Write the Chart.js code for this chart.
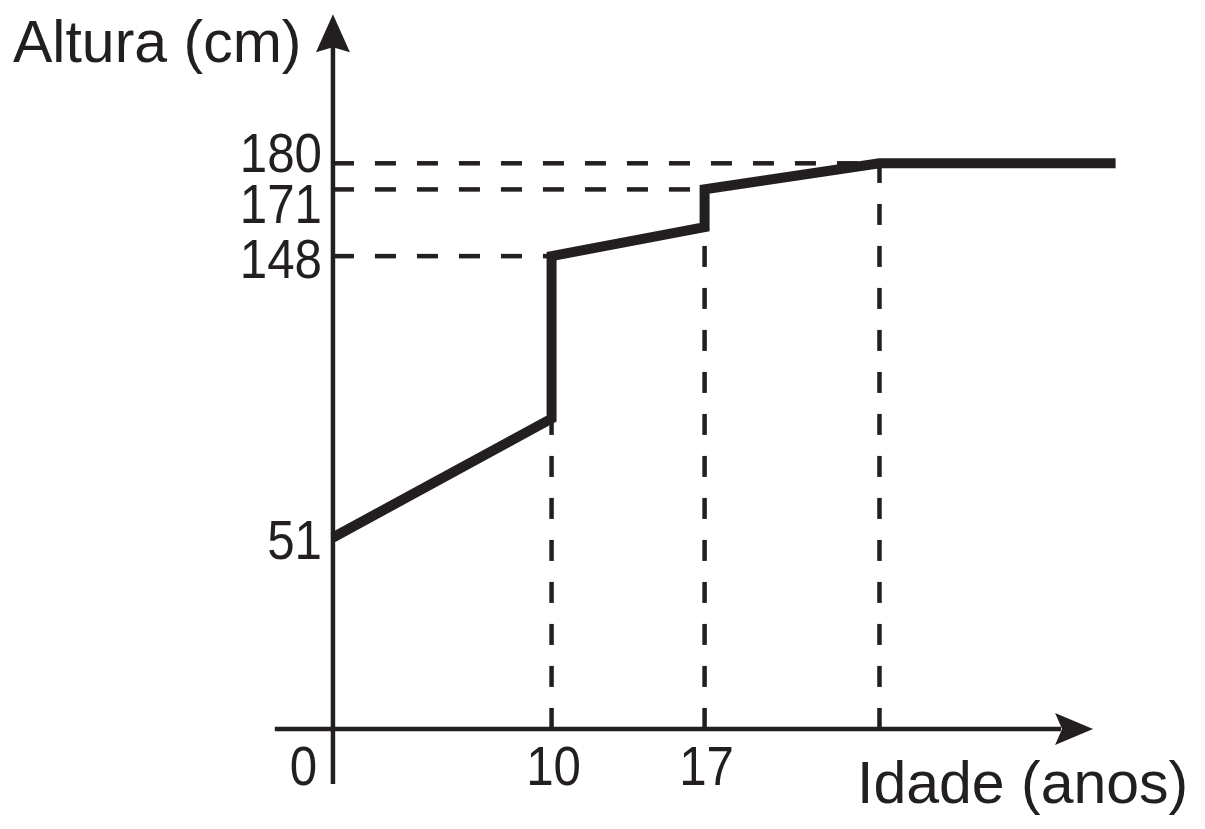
<!DOCTYPE html>
<html lang="pt">
<head>
<meta charset="utf-8">
<title>Altura x Idade</title>
<script src="https://cdn.jsdelivr.net/npm/chart.js@4/dist/chart.umd.min.js"></script>
<style>
  html, body { margin: 0; padding: 0; background: #fff; }
  #wrap { width: 1205px; height: 829px; }
</style>
</head>
<body>
<div id="wrap"><canvas id="grafico"></canvas></div>
<script>
// dados
const idade = [0, 10, 10, 17, 17, 25, 35.8];
const altura = [51, 92, 148, 158, 171, 180, 180];

// marcas nos eixos
const ticksAltura = [51, 148, 171, 180];
const ticksIdade = [10, 17, 25];
const rotulosIdade = ["10", "17", ""];

const tituloY = "Altura (cm)";
const tituloX = "Idade (anos)";

const COR = "#231f20";
const FONTE = '"Liberation Sans", Arial, sans-serif';

// onde os eixos cruzam / terminam (valores das escalas)
const EIXO_X = -15;        // altura onde fica o eixo horizontal
const BASE_EIXO_Y = -34;   // o eixo vertical desce um pouco abaixo
const INICIO_EIXO_X = -2.66;
const SETA_X = 34.77;
const SETA_Y = 231.4;

// 📐 linhas tracejadas de referência (montadas a partir dos dados)
function guias() {
  const out = [];
  ticksAltura.forEach(v => {
    const i = altura.indexOf(v);
    if (i > 0) out.push([{ x: 0, y: v }, { x: idade[i], y: v }]);
  });
  ticksIdade.forEach(t => {
    const i = idade.indexOf(t);
    if (i >= 0) out.push([{ x: t, y: EIXO_X }, { x: t, y: altura[i] }]);
  });
  return out.map(pts => ({
    data: pts,
    borderColor: COR,
    borderWidth: 4.5,
    borderDash: [21, 21],
    pointRadius: 0,
    borderCapStyle: "butt"
  }));
}

function digitos(ctx, txt, px, py, align) {
  ctx.save();
  ctx.translate(px, py);
  ctx.scale(0.88, 1);
  ctx.textAlign = align;
  ctx.fillText(txt, 0, 0);
  ctx.restore();
}

// ✏️ eixos com setas + textos
const eixos = {
  id: "eixos",
  beforeDatasetsDraw(chart) {
    const { ctx, scales: { x, y } } = chart;
    const x0 = x.getPixelForValue(0);
    const y0 = y.getPixelForValue(EIXO_X);
    const yTopo = y.getPixelForValue(SETA_Y);
    const xPonta = x.getPixelForValue(SETA_X);

    ctx.save();
    ctx.strokeStyle = COR;
    ctx.fillStyle = COR;
    ctx.lineWidth = 4.5;

    ctx.beginPath();
    ctx.moveTo(x0, y.getPixelForValue(BASE_EIXO_Y));
    ctx.lineTo(x0, yTopo + 32);
    ctx.stroke();
    ctx.beginPath();
    ctx.moveTo(x0, yTopo);
    ctx.lineTo(x0 + 17, yTopo + 38);
    ctx.lineTo(x0, yTopo + 33);
    ctx.lineTo(x0 - 17, yTopo + 38);
    ctx.closePath();
    ctx.fill();

    ctx.beginPath();
    ctx.moveTo(x.getPixelForValue(INICIO_EIXO_X), y0);
    ctx.lineTo(xPonta - 32, y0);
    ctx.stroke();
    ctx.beginPath();
    ctx.moveTo(xPonta, y0);
    ctx.lineTo(xPonta - 38, y0 - 16);
    ctx.lineTo(xPonta - 31, y0);
    ctx.lineTo(xPonta - 38, y0 + 16);
    ctx.closePath();
    ctx.fill();
    ctx.restore();
  },
  afterDraw(chart) {
    const { ctx, scales: { x, y } } = chart;
    const x0 = x.getPixelForValue(0);
    const y0 = y.getPixelForValue(EIXO_X);

    ctx.save();
    ctx.fillStyle = COR;
    ctx.textBaseline = "alphabetic";

    ctx.font = "59px " + FONTE;
    ctx.textAlign = "left";
    ctx.fillText(tituloY, 13, 62);
    ctx.fillText(tituloX, 857, y0 + 74);

    ctx.font = "56px " + FONTE;
    const ajuste = { 180: -13, 171: 12 };
    ticksAltura.forEach(v => {
      const py = y.getPixelForValue(v) + 22 + (ajuste[v] || 0);
      digitos(ctx, String(v), x0 - 11, py, "right");
    });

    ticksIdade.forEach((t, i) => {
      if (!rotulosIdade[i]) return;
      digitos(ctx, rotulosIdade[i], x.getPixelForValue(t) + 2, y0 + 56, "center");
    });
    digitos(ctx, "0", x0 - 29.5, y0 + 56, "center");
    ctx.restore();
  }
};

const ctx = document.getElementById("grafico").getContext("2d");

new Chart(ctx, {
  type: "line",
  data: {
    datasets: [
      {
        data: idade.map((v, i) => ({ x: v, y: altura[i] })),
        borderColor: COR,
        borderWidth: 10,
        pointRadius: 0,
        tension: 0,
        borderJoinStyle: "miter",
        borderCapStyle: "butt"
      },
      ...guias()
    ]
  },
  options: {
    responsive: true,
    maintainAspectRatio: false,
    animation: false,
    devicePixelRatio: 1,
    layout: { padding: 0 },
    plugins: { legend: { display: false }, tooltip: { enabled: false } },
    scales: {
      x: { type: "linear", min: -15.23, max: 39.89, display: false },
      y: { type: "linear", min: -49.5, max: 236.3, display: false }
    }
  },
  plugins: [eixos]
});
</script>
</body>
</html>
